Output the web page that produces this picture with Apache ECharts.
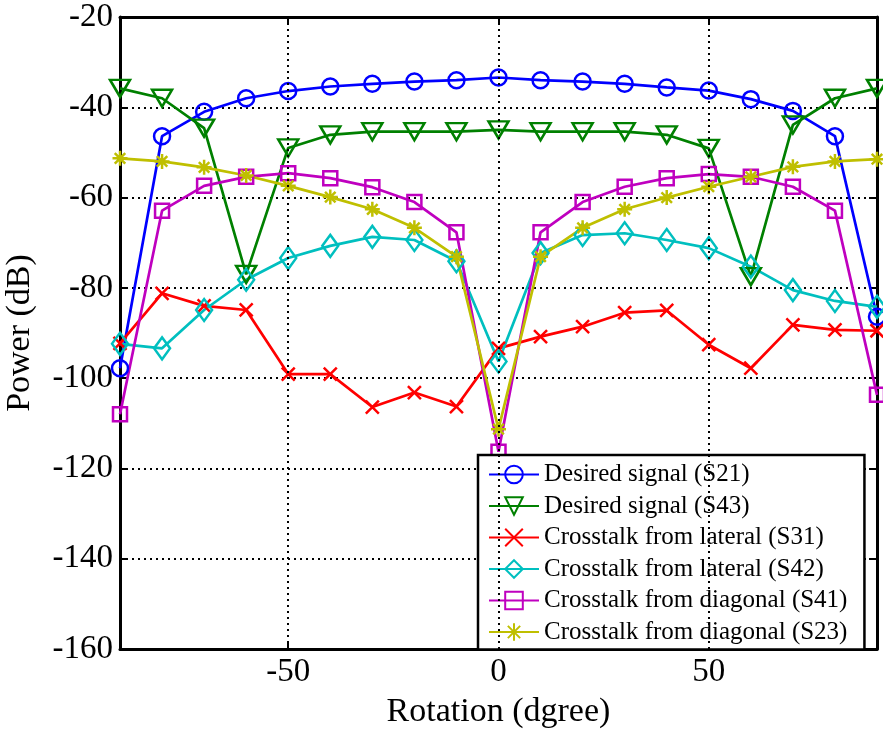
<!DOCTYPE html>
<html><head><meta charset="utf-8">
<script src="https://cdn.jsdelivr.net/npm/echarts@6/dist/echarts.min.js"></script>
<style>html,body{margin:0;padding:0;background:#fff}#c{width:883px;height:731px}</style>
</head><body><div id="c"></div>
<script>
const angles = [-90,-80,-70,-60,-50,-40,-30,-20,-10,0,10,20,30,40,50,60,70,80,90];
const s21 = [-97.8,-46.4,-41.0,-38.0,-36.4,-35.4,-34.8,-34.3,-34.0,-33.4,-34.0,-34.3,-34.8,-35.6,-36.3,-38.2,-40.8,-46.4,-86.4];
const s43 = [-35.8,-38.0,-44.6,-77.0,-49.0,-46.1,-45.4,-45.4,-45.4,-45.0,-45.4,-45.4,-45.4,-46.1,-49.1,-77.5,-43.9,-38.0,-35.8];
const s31 = [-92.3,-81.2,-84.0,-84.9,-99.1,-99.1,-106.4,-103.2,-106.3,-93.4,-90.8,-88.6,-85.5,-85.0,-92.6,-97.8,-88.2,-89.3,-89.5];
const s42 = [-92.4,-93.4,-84.9,-78.2,-73.4,-70.7,-68.7,-69.4,-74.1,-96.3,-72.3,-68.3,-67.9,-69.4,-71.2,-75.3,-80.5,-82.9,-84.2];
const s41 = [-108.0,-62.9,-57.4,-55.4,-54.6,-55.7,-57.7,-61.0,-67.7,-116.3,-67.7,-61.0,-57.6,-55.7,-54.8,-55.4,-57.6,-62.9,-103.7];
const s23 = [-51.3,-52.0,-53.3,-55.1,-57.4,-59.9,-62.6,-66.7,-73.1,-111.3,-73.1,-66.7,-62.6,-60.0,-57.6,-55.4,-53.2,-52.0,-51.5];
const names = ['Desired signal (S21)','Desired signal (S43)','Crosstalk from lateral (S31)','Crosstalk from lateral (S42)','Crosstalk from diagonal (S41)','Crosstalk from diagonal (S23)'];
const xTickLabels = [-50,0,50];
const yTicks = {min:-160,max:-20,step:20};

const font = 'Liberation Serif';
const series = [
  {data:s21,color:'#0000ff',symbol:'circle',size:16},
  {data:s43,color:'#008000',symbol:'path://M0,0L20,0L10,17Z',size:[20,17]},
  {data:s31,color:'#ff0000',symbol:'path://M0,0L10,10M10,0L0,10',size:13},
  {data:s42,color:'#00bfbf',symbol:'path://M5,0L10,7L5,14L0,7Z',size:[16,22]},
  {data:s41,color:'#bf00bf',symbol:'rect',size:14},
  {data:s23,color:'#bfbf00',symbol:'path://M5,0L5,10M0,5L10,5M1.5,1.5L8.5,8.5M8.5,1.5L1.5,8.5',size:15}
].map((s,i)=>({
  name:names[i], type:'line',
  data:angles.map((a,j)=>[a,s.data[j]]),
  symbol:s.symbol, symbolSize:s.size, showSymbol:true,
  itemStyle:{color:'rgba(0,0,0,0)',borderColor:s.color,borderWidth:2.5},
  lineStyle:{color:s.color,width:2.7},
  emphasis:{disabled:true}, animation:false, z:2
}));
series.unshift({
  type:'line', data:[], silent:true, z:1,
  markLine:{silent:true,symbol:'none',label:{show:false},animation:false,
    lineStyle:{type:[2,4],width:2,color:'#000'},
    data:xTickLabels.map(v=>({xAxis:v}))}
});

const chart = echarts.init(document.getElementById('c'));
chart.setOption({
  animation:false,
  grid:{left:120,right:6,top:17,bottom:82,show:false,outerBoundsMode:'none',containLabel:false},
  legend:{
    orient:'vertical', left:478, top:455,
    data:names,
    itemWidth:50, itemHeight:22, itemGap:6.5,
    padding:[7,17,5,10],
    backgroundColor:'#fff', borderColor:'#000', borderWidth:2.5,
    textStyle:{fontFamily:font,fontSize:25,color:'#000'},
    inactiveColor:'#000'
  },
  xAxis:[{
    type:'value', min:-90, max:90, interval:10,
    name:'Rotation (dgree)', nameLocation:'middle', nameGap:46,
    nameTextStyle:{fontFamily:font,fontSize:34,color:'#000'},
    axisLine:{show:true,onZero:false,lineStyle:{color:'#000',width:3}},
    axisTick:{show:true,inside:true,length:8,customValues:xTickLabels,lineStyle:{color:'#000',width:2}},
    axisLabel:{customValues:xTickLabels,fontFamily:font,fontSize:33,color:'#000',margin:7,
      formatter:v=>xTickLabels.indexOf(v)>=0?String(v):''},
    splitLine:{show:false}
  },{
    type:'value', position:'top', min:-90, max:90, interval:10,
    axisLine:{show:true,onZero:false,lineStyle:{color:'#000',width:3}},
    axisTick:{show:true,inside:true,length:8,customValues:xTickLabels,lineStyle:{color:'#000',width:2}},
    axisLabel:{show:false}, splitLine:{show:false}
  }],
  yAxis:[{
    type:'value', min:yTicks.min, max:yTicks.max, interval:yTicks.step,
    name:'Power (dB)', nameLocation:'middle', nameGap:83,
    nameTextStyle:{fontFamily:font,fontSize:34,color:'#000'},
    axisLine:{show:true,onZero:false,lineStyle:{color:'#000',width:3}},
    axisTick:{show:true,inside:true,length:8,lineStyle:{color:'#000',width:2}},
    axisLabel:{fontFamily:font,fontSize:33,color:'#000',margin:7},
    splitLine:{show:true,lineStyle:{type:[2,4],width:2,color:'#000'}}
  },{
    type:'value', position:'right', min:yTicks.min, max:yTicks.max, interval:yTicks.step,
    axisLine:{show:true,onZero:false,lineStyle:{color:'#000',width:3}},
    axisTick:{show:true,inside:true,length:8,lineStyle:{color:'#000',width:2}},
    axisLabel:{show:false}, splitLine:{show:false}
  }],
  series:series
});
</script></body></html>
